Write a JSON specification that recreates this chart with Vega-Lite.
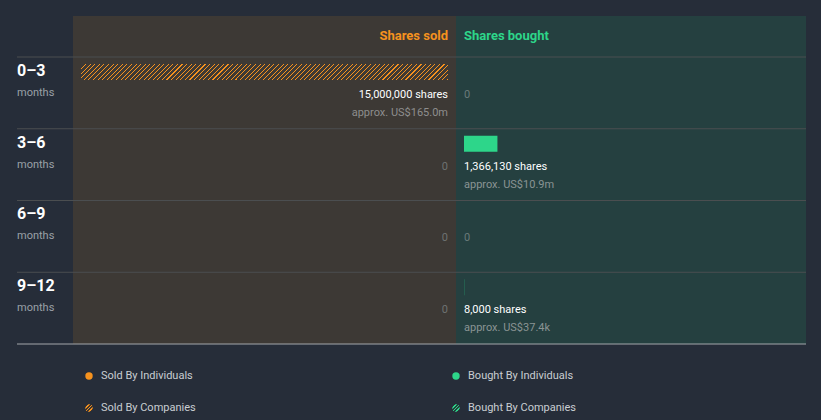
{
  "$schema": "https://vega.github.io/schema/vega-lite/v6.json",
  "background": "#262d39",
  "padding": {"left": 16, "top": 16, "right": 16, "bottom": 5},
  "bounds": "flush",
  "columns": 3,
  "spacing": 0,
  "config": {"view": {"stroke": null}, "font": "Roboto", "text": {"font": "Roboto"}},
  "datasets": {
    "rows": [
      {"period": "0–3", "side": "sold", "by": "Companies", "shares": 15000000, "label": "15,000,000 shares", "approx": "approx. US$165.0m"},
      {"period": "3–6", "side": "sold", "by": "None", "shares": 0, "label": "0", "approx": ""},
      {"period": "6–9", "side": "sold", "by": "None", "shares": 0, "label": "0", "approx": ""},
      {"period": "9–12", "side": "sold", "by": "None", "shares": 0, "label": "0", "approx": ""},
      {"period": "0–3", "side": "bought", "by": "None", "shares": 0, "label": "0", "approx": ""},
      {"period": "3–6", "side": "bought", "by": "Individuals", "shares": 1366130, "label": "1,366,130 shares", "approx": "approx. US$10.9m"},
      {"period": "6–9", "side": "bought", "by": "None", "shares": 0, "label": "0", "approx": ""},
      {"period": "9–12", "side": "bought", "by": "Individuals", "shares": 8000, "label": "8,000 shares", "approx": "approx. US$37.4k"}
    ],
    "periods": [
      {"period": "0–3", "unit": "months"},
      {"period": "3–6", "unit": "months"},
      {"period": "6–9", "unit": "months"},
      {"period": "9–12", "unit": "months"}
    ],
    "headers": [
      {"side": "sold", "title": "Shares sold"},
      {"side": "bought", "title": "Shares bought"}
    ],
    "legend": [
      {"side": "Sold", "by": "Individuals", "label": "Sold By Individuals"},
      {"side": "Bought", "by": "Individuals", "label": "Bought By Individuals"},
      {"side": "Sold", "by": "Companies", "label": "Sold By Companies"},
      {"side": "Bought", "by": "Companies", "label": "Bought By Companies"}
    ]
  },
  "concat": [
    {
      "width": 56, "height": 41,
      "data": {"values": [{}]},
      "mark": {"type": "text"},
      "encoding": {"text": {"value": ""}}
    },
    {
      "width": 383, "height": 41,
      "view": {"fill": "#3d3935", "stroke": null},
      "data": {"name": "headers"},
      "transform": [{"filter": "datum.side === 'sold'"}],
      "mark": {"type": "text", "align": "right", "baseline": "middle", "dy": -1, "fontSize": 13, "fontWeight": "bold", "color": "#f6921e"},
      "encoding": {
        "x": {"datum": 0, "type": "quantitative", "scale": {"domain": [-326975, 15326975], "reverse": true, "nice": false, "zero": false}, "axis": null},
        "text": {"field": "title"}
      }
    },
    {
      "width": 350, "height": 41,
      "view": {"fill": "#254040", "stroke": null},
      "data": {"name": "headers"},
      "transform": [{"filter": "datum.side === 'bought'"}],
      "mark": {"type": "text", "align": "left", "baseline": "middle", "dy": -1, "fontSize": 13, "fontWeight": "bold", "color": "#2dd68a"},
      "encoding": {
        "x": {"datum": 0, "type": "quantitative", "scale": {"domain": [-326975, 13978202], "nice": false, "zero": false}, "axis": null},
        "text": {"field": "title"}
      }
    },
    {
      "width": 56, "height": 287,
      "data": {"name": "periods"},
      "layer": [
        {
          "mark": {"type": "rule", "color": "#4b4e50", "strokeWidth": 1},
          "encoding": {"y": {"field": "period", "type": "nominal", "bandPosition": 0, "sort": null, "scale": {"domain": ["0–3", "3–6", "6–9", "9–12"], "paddingInner": 0, "paddingOuter": 0}, "axis": null}}
        },
        {
          "transform": [{"filter": "datum.period === '9–12'"}],
          "mark": {"type": "rule", "color": "#a3a7ab", "strokeWidth": 1},
          "encoding": {"y": {"field": "period", "type": "nominal", "bandPosition": 1, "sort": null, "scale": {"domain": ["0–3", "3–6", "6–9", "9–12"], "paddingInner": 0, "paddingOuter": 0}, "axis": null}}
        },
        {
          "mark": {"type": "text", "align": "left", "baseline": "middle", "dy": -22, "fontSize": 16, "fontWeight": "bold", "color": "#ffffff"},
          "encoding": {
            "x": {"datum": 0, "type": "quantitative", "scale": {"domain": [0, 1], "nice": false, "zero": false}, "axis": null},
            "y": {"field": "period", "type": "nominal", "sort": null, "scale": {"domain": ["0–3", "3–6", "6–9", "9–12"], "paddingInner": 0, "paddingOuter": 0}, "axis": null},
            "text": {"field": "period"}
          }
        },
        {
          "mark": {"type": "text", "align": "left", "baseline": "middle", "dy": 0, "fontSize": 11, "color": "#9aa0a7"},
          "encoding": {
            "x": {"datum": 0, "type": "quantitative", "scale": {"domain": [0, 1], "nice": false, "zero": false}, "axis": null},
            "y": {"field": "period", "type": "nominal", "sort": null, "scale": {"domain": ["0–3", "3–6", "6–9", "9–12"], "paddingInner": 0, "paddingOuter": 0}, "axis": null},
            "text": {"field": "unit"}
          }
        }
      ]
    },
    {
      "width": 383, "height": 287,
      "view": {"fill": "#3d3935", "stroke": null},
      "data": {"name": "rows"},
      "transform": [{"filter": "datum.side === 'sold'"}],
      "layer": [
        {
          "mark": {"type": "rule", "color": "#4b4e50", "strokeWidth": 1},
          "encoding": {"y": {"field": "period", "type": "nominal", "bandPosition": 0, "sort": null, "scale": {"domain": ["0–3", "3–6", "6–9", "9–12"], "paddingInner": 0, "paddingOuter": 0}, "axis": null}}
        },
        {
          "transform": [{"filter": "datum.period === '9–12'"}],
          "mark": {"type": "rule", "color": "#a3a7ab", "strokeWidth": 1},
          "encoding": {"y": {"field": "period", "type": "nominal", "bandPosition": 1, "sort": null, "scale": {"domain": ["0–3", "3–6", "6–9", "9–12"], "paddingInner": 0, "paddingOuter": 0}, "axis": null}}
        },
        {
          "transform": [{"filter": "datum.by === 'Companies'"}],
          "mark": {
            "type": "bar", "height": 16, "yOffset": -21,
            "fill": {"gradient": "linear", "x1": 0, "y1": 0, "x2": 1.0416, "y2": 0.0454, "stops": [
              {"offset":0,"color":"#f6921e"},{"offset":0.0028,"color":"#f6921e"},{"offset":0.0028,"color":"#3d3935"},{"offset":0.012,"color":"#3d3935"},
              {"offset":0.012,"color":"#f6921e"},{"offset":0.0148,"color":"#f6921e"},{"offset":0.0148,"color":"#3d3935"},{"offset":0.024,"color":"#3d3935"},
              {"offset":0.024,"color":"#f6921e"},{"offset":0.0268,"color":"#f6921e"},{"offset":0.0268,"color":"#3d3935"},{"offset":0.036,"color":"#3d3935"},
              {"offset":0.036,"color":"#f6921e"},{"offset":0.0388,"color":"#f6921e"},{"offset":0.0388,"color":"#3d3935"},{"offset":0.048,"color":"#3d3935"},
              {"offset":0.048,"color":"#f6921e"},{"offset":0.0508,"color":"#f6921e"},{"offset":0.0508,"color":"#3d3935"},{"offset":0.060,"color":"#3d3935"},
              {"offset":0.060,"color":"#f6921e"},{"offset":0.0628,"color":"#f6921e"},{"offset":0.0628,"color":"#3d3935"},{"offset":0.072,"color":"#3d3935"},
              {"offset":0.072,"color":"#f6921e"},{"offset":0.0748,"color":"#f6921e"},{"offset":0.0748,"color":"#3d3935"},{"offset":0.084,"color":"#3d3935"},
              {"offset":0.084,"color":"#f6921e"},{"offset":0.0868,"color":"#f6921e"},{"offset":0.0868,"color":"#3d3935"},{"offset":0.096,"color":"#3d3935"},
              {"offset":0.096,"color":"#f6921e"},{"offset":0.0988,"color":"#f6921e"},{"offset":0.0988,"color":"#3d3935"},{"offset":0.108,"color":"#3d3935"},
              {"offset":0.108,"color":"#f6921e"},{"offset":0.1108,"color":"#f6921e"},{"offset":0.1108,"color":"#3d3935"},{"offset":0.120,"color":"#3d3935"},
              {"offset":0.120,"color":"#f6921e"},{"offset":0.1228,"color":"#f6921e"},{"offset":0.1228,"color":"#3d3935"},{"offset":0.132,"color":"#3d3935"},
              {"offset":0.132,"color":"#f6921e"},{"offset":0.1348,"color":"#f6921e"},{"offset":0.1348,"color":"#3d3935"},{"offset":0.144,"color":"#3d3935"},
              {"offset":0.144,"color":"#f6921e"},{"offset":0.1468,"color":"#f6921e"},{"offset":0.1468,"color":"#3d3935"},{"offset":0.156,"color":"#3d3935"},
              {"offset":0.156,"color":"#f6921e"},{"offset":0.1588,"color":"#f6921e"},{"offset":0.1588,"color":"#3d3935"},{"offset":0.168,"color":"#3d3935"},
              {"offset":0.168,"color":"#f6921e"},{"offset":0.1708,"color":"#f6921e"},{"offset":0.1708,"color":"#3d3935"},{"offset":0.180,"color":"#3d3935"},
              {"offset":0.180,"color":"#f6921e"},{"offset":0.1828,"color":"#f6921e"},{"offset":0.1828,"color":"#3d3935"},{"offset":0.192,"color":"#3d3935"},
              {"offset":0.192,"color":"#f6921e"},{"offset":0.1948,"color":"#f6921e"},{"offset":0.1948,"color":"#3d3935"},{"offset":0.204,"color":"#3d3935"},
              {"offset":0.204,"color":"#f6921e"},{"offset":0.2068,"color":"#f6921e"},{"offset":0.2068,"color":"#3d3935"},{"offset":0.216,"color":"#3d3935"},
              {"offset":0.216,"color":"#f6921e"},{"offset":0.2188,"color":"#f6921e"},{"offset":0.2188,"color":"#3d3935"},{"offset":0.228,"color":"#3d3935"},
              {"offset":0.228,"color":"#f6921e"},{"offset":0.2308,"color":"#f6921e"},{"offset":0.2308,"color":"#3d3935"},{"offset":0.240,"color":"#3d3935"},
              {"offset":0.240,"color":"#f6921e"},{"offset":0.2428,"color":"#f6921e"},{"offset":0.2428,"color":"#3d3935"},{"offset":0.252,"color":"#3d3935"},
              {"offset":0.252,"color":"#f6921e"},{"offset":0.2548,"color":"#f6921e"},{"offset":0.2548,"color":"#3d3935"},{"offset":0.264,"color":"#3d3935"},
              {"offset":0.264,"color":"#f6921e"},{"offset":0.2668,"color":"#f6921e"},{"offset":0.2668,"color":"#3d3935"},{"offset":0.276,"color":"#3d3935"},
              {"offset":0.276,"color":"#f6921e"},{"offset":0.2788,"color":"#f6921e"},{"offset":0.2788,"color":"#3d3935"},{"offset":0.288,"color":"#3d3935"},
              {"offset":0.288,"color":"#f6921e"},{"offset":0.2908,"color":"#f6921e"},{"offset":0.2908,"color":"#3d3935"},{"offset":0.300,"color":"#3d3935"},
              {"offset":0.300,"color":"#f6921e"},{"offset":0.3028,"color":"#f6921e"},{"offset":0.3028,"color":"#3d3935"},{"offset":0.312,"color":"#3d3935"},
              {"offset":0.312,"color":"#f6921e"},{"offset":0.3148,"color":"#f6921e"},{"offset":0.3148,"color":"#3d3935"},{"offset":0.324,"color":"#3d3935"},
              {"offset":0.324,"color":"#f6921e"},{"offset":0.3268,"color":"#f6921e"},{"offset":0.3268,"color":"#3d3935"},{"offset":0.336,"color":"#3d3935"},
              {"offset":0.336,"color":"#f6921e"},{"offset":0.3388,"color":"#f6921e"},{"offset":0.3388,"color":"#3d3935"},{"offset":0.348,"color":"#3d3935"},
              {"offset":0.348,"color":"#f6921e"},{"offset":0.3508,"color":"#f6921e"},{"offset":0.3508,"color":"#3d3935"},{"offset":0.360,"color":"#3d3935"},
              {"offset":0.360,"color":"#f6921e"},{"offset":0.3628,"color":"#f6921e"},{"offset":0.3628,"color":"#3d3935"},{"offset":0.372,"color":"#3d3935"},
              {"offset":0.372,"color":"#f6921e"},{"offset":0.3748,"color":"#f6921e"},{"offset":0.3748,"color":"#3d3935"},{"offset":0.384,"color":"#3d3935"},
              {"offset":0.384,"color":"#f6921e"},{"offset":0.3868,"color":"#f6921e"},{"offset":0.3868,"color":"#3d3935"},{"offset":0.396,"color":"#3d3935"},
              {"offset":0.396,"color":"#f6921e"},{"offset":0.3988,"color":"#f6921e"},{"offset":0.3988,"color":"#3d3935"},{"offset":0.408,"color":"#3d3935"},
              {"offset":0.408,"color":"#f6921e"},{"offset":0.4108,"color":"#f6921e"},{"offset":0.4108,"color":"#3d3935"},{"offset":0.420,"color":"#3d3935"},
              {"offset":0.420,"color":"#f6921e"},{"offset":0.4228,"color":"#f6921e"},{"offset":0.4228,"color":"#3d3935"},{"offset":0.432,"color":"#3d3935"},
              {"offset":0.432,"color":"#f6921e"},{"offset":0.4348,"color":"#f6921e"},{"offset":0.4348,"color":"#3d3935"},{"offset":0.444,"color":"#3d3935"},
              {"offset":0.444,"color":"#f6921e"},{"offset":0.4468,"color":"#f6921e"},{"offset":0.4468,"color":"#3d3935"},{"offset":0.456,"color":"#3d3935"},
              {"offset":0.456,"color":"#f6921e"},{"offset":0.4588,"color":"#f6921e"},{"offset":0.4588,"color":"#3d3935"},{"offset":0.468,"color":"#3d3935"},
              {"offset":0.468,"color":"#f6921e"},{"offset":0.4708,"color":"#f6921e"},{"offset":0.4708,"color":"#3d3935"},{"offset":0.480,"color":"#3d3935"},
              {"offset":0.480,"color":"#f6921e"},{"offset":0.4828,"color":"#f6921e"},{"offset":0.4828,"color":"#3d3935"},{"offset":0.492,"color":"#3d3935"},
              {"offset":0.492,"color":"#f6921e"},{"offset":0.4948,"color":"#f6921e"},{"offset":0.4948,"color":"#3d3935"},{"offset":0.504,"color":"#3d3935"},
              {"offset":0.504,"color":"#f6921e"},{"offset":0.5068,"color":"#f6921e"},{"offset":0.5068,"color":"#3d3935"},{"offset":0.516,"color":"#3d3935"},
              {"offset":0.516,"color":"#f6921e"},{"offset":0.5188,"color":"#f6921e"},{"offset":0.5188,"color":"#3d3935"},{"offset":0.528,"color":"#3d3935"},
              {"offset":0.528,"color":"#f6921e"},{"offset":0.5308,"color":"#f6921e"},{"offset":0.5308,"color":"#3d3935"},{"offset":0.540,"color":"#3d3935"},
              {"offset":0.540,"color":"#f6921e"},{"offset":0.5428,"color":"#f6921e"},{"offset":0.5428,"color":"#3d3935"},{"offset":0.552,"color":"#3d3935"},
              {"offset":0.552,"color":"#f6921e"},{"offset":0.5548,"color":"#f6921e"},{"offset":0.5548,"color":"#3d3935"},{"offset":0.564,"color":"#3d3935"},
              {"offset":0.564,"color":"#f6921e"},{"offset":0.5668,"color":"#f6921e"},{"offset":0.5668,"color":"#3d3935"},{"offset":0.576,"color":"#3d3935"},
              {"offset":0.576,"color":"#f6921e"},{"offset":0.5788,"color":"#f6921e"},{"offset":0.5788,"color":"#3d3935"},{"offset":0.588,"color":"#3d3935"},
              {"offset":0.588,"color":"#f6921e"},{"offset":0.5908,"color":"#f6921e"},{"offset":0.5908,"color":"#3d3935"},{"offset":0.600,"color":"#3d3935"},
              {"offset":0.600,"color":"#f6921e"},{"offset":0.6028,"color":"#f6921e"},{"offset":0.6028,"color":"#3d3935"},{"offset":0.612,"color":"#3d3935"},
              {"offset":0.612,"color":"#f6921e"},{"offset":0.6148,"color":"#f6921e"},{"offset":0.6148,"color":"#3d3935"},{"offset":0.624,"color":"#3d3935"},
              {"offset":0.624,"color":"#f6921e"},{"offset":0.6268,"color":"#f6921e"},{"offset":0.6268,"color":"#3d3935"},{"offset":0.636,"color":"#3d3935"},
              {"offset":0.636,"color":"#f6921e"},{"offset":0.6388,"color":"#f6921e"},{"offset":0.6388,"color":"#3d3935"},{"offset":0.648,"color":"#3d3935"},
              {"offset":0.648,"color":"#f6921e"},{"offset":0.6508,"color":"#f6921e"},{"offset":0.6508,"color":"#3d3935"},{"offset":0.660,"color":"#3d3935"},
              {"offset":0.660,"color":"#f6921e"},{"offset":0.6628,"color":"#f6921e"},{"offset":0.6628,"color":"#3d3935"},{"offset":0.672,"color":"#3d3935"},
              {"offset":0.672,"color":"#f6921e"},{"offset":0.6748,"color":"#f6921e"},{"offset":0.6748,"color":"#3d3935"},{"offset":0.684,"color":"#3d3935"},
              {"offset":0.684,"color":"#f6921e"},{"offset":0.6868,"color":"#f6921e"},{"offset":0.6868,"color":"#3d3935"},{"offset":0.696,"color":"#3d3935"},
              {"offset":0.696,"color":"#f6921e"},{"offset":0.6988,"color":"#f6921e"},{"offset":0.6988,"color":"#3d3935"},{"offset":0.708,"color":"#3d3935"},
              {"offset":0.708,"color":"#f6921e"},{"offset":0.7108,"color":"#f6921e"},{"offset":0.7108,"color":"#3d3935"},{"offset":0.720,"color":"#3d3935"},
              {"offset":0.720,"color":"#f6921e"},{"offset":0.7228,"color":"#f6921e"},{"offset":0.7228,"color":"#3d3935"},{"offset":0.732,"color":"#3d3935"},
              {"offset":0.732,"color":"#f6921e"},{"offset":0.7348,"color":"#f6921e"},{"offset":0.7348,"color":"#3d3935"},{"offset":0.744,"color":"#3d3935"},
              {"offset":0.744,"color":"#f6921e"},{"offset":0.7468,"color":"#f6921e"},{"offset":0.7468,"color":"#3d3935"},{"offset":0.756,"color":"#3d3935"},
              {"offset":0.756,"color":"#f6921e"},{"offset":0.7588,"color":"#f6921e"},{"offset":0.7588,"color":"#3d3935"},{"offset":0.768,"color":"#3d3935"},
              {"offset":0.768,"color":"#f6921e"},{"offset":0.7708,"color":"#f6921e"},{"offset":0.7708,"color":"#3d3935"},{"offset":0.780,"color":"#3d3935"},
              {"offset":0.780,"color":"#f6921e"},{"offset":0.7828,"color":"#f6921e"},{"offset":0.7828,"color":"#3d3935"},{"offset":0.792,"color":"#3d3935"},
              {"offset":0.792,"color":"#f6921e"},{"offset":0.7948,"color":"#f6921e"},{"offset":0.7948,"color":"#3d3935"},{"offset":0.804,"color":"#3d3935"},
              {"offset":0.804,"color":"#f6921e"},{"offset":0.8068,"color":"#f6921e"},{"offset":0.8068,"color":"#3d3935"},{"offset":0.816,"color":"#3d3935"},
              {"offset":0.816,"color":"#f6921e"},{"offset":0.8188,"color":"#f6921e"},{"offset":0.8188,"color":"#3d3935"},{"offset":0.828,"color":"#3d3935"},
              {"offset":0.828,"color":"#f6921e"},{"offset":0.8308,"color":"#f6921e"},{"offset":0.8308,"color":"#3d3935"},{"offset":0.840,"color":"#3d3935"},
              {"offset":0.840,"color":"#f6921e"},{"offset":0.8428,"color":"#f6921e"},{"offset":0.8428,"color":"#3d3935"},{"offset":0.852,"color":"#3d3935"},
              {"offset":0.852,"color":"#f6921e"},{"offset":0.8548,"color":"#f6921e"},{"offset":0.8548,"color":"#3d3935"},{"offset":0.864,"color":"#3d3935"},
              {"offset":0.864,"color":"#f6921e"},{"offset":0.8668,"color":"#f6921e"},{"offset":0.8668,"color":"#3d3935"},{"offset":0.876,"color":"#3d3935"},
              {"offset":0.876,"color":"#f6921e"},{"offset":0.8788,"color":"#f6921e"},{"offset":0.8788,"color":"#3d3935"},{"offset":0.888,"color":"#3d3935"},
              {"offset":0.888,"color":"#f6921e"},{"offset":0.8908,"color":"#f6921e"},{"offset":0.8908,"color":"#3d3935"},{"offset":0.900,"color":"#3d3935"},
              {"offset":0.900,"color":"#f6921e"},{"offset":0.9028,"color":"#f6921e"},{"offset":0.9028,"color":"#3d3935"},{"offset":0.912,"color":"#3d3935"},
              {"offset":0.912,"color":"#f6921e"},{"offset":0.9148,"color":"#f6921e"},{"offset":0.9148,"color":"#3d3935"},{"offset":0.924,"color":"#3d3935"},
              {"offset":0.924,"color":"#f6921e"},{"offset":0.9268,"color":"#f6921e"},{"offset":0.9268,"color":"#3d3935"},{"offset":0.936,"color":"#3d3935"},
              {"offset":0.936,"color":"#f6921e"},{"offset":0.9388,"color":"#f6921e"},{"offset":0.9388,"color":"#3d3935"},{"offset":0.948,"color":"#3d3935"},
              {"offset":0.948,"color":"#f6921e"},{"offset":0.9508,"color":"#f6921e"},{"offset":0.9508,"color":"#3d3935"},{"offset":0.960,"color":"#3d3935"},
              {"offset":0.960,"color":"#f6921e"},{"offset":0.9628,"color":"#f6921e"},{"offset":0.9628,"color":"#3d3935"},{"offset":0.972,"color":"#3d3935"},
              {"offset":0.972,"color":"#f6921e"},{"offset":0.9748,"color":"#f6921e"},{"offset":0.9748,"color":"#3d3935"},{"offset":0.984,"color":"#3d3935"},
              {"offset":0.984,"color":"#f6921e"},{"offset":0.9868,"color":"#f6921e"},{"offset":0.9868,"color":"#3d3935"},{"offset":0.996,"color":"#3d3935"},
              {"offset":0.996,"color":"#f6921e"},{"offset":0.9988,"color":"#f6921e"},{"offset":0.9988,"color":"#3d3935"},{"offset":1,"color":"#3d3935"}
            ]}
          },
          "encoding": {
            "x": {"field": "shares", "type": "quantitative", "scale": {"domain": [-326975, 15326975], "reverse": true, "nice": false, "zero": false}, "axis": null},
            "y": {"field": "period", "type": "nominal", "sort": null, "scale": {"domain": ["0–3", "3–6", "6–9", "9–12"], "paddingInner": 0, "paddingOuter": 0}, "axis": null}
          }
        },
        {
          "mark": {"type": "text", "align": "right", "baseline": "middle", "dy": 2, "fontSize": 11},
          "encoding": {
            "x": {"datum": 0, "type": "quantitative", "scale": {"domain": [-326975, 15326975], "reverse": true, "nice": false, "zero": false}, "axis": null},
            "y": {"field": "period", "type": "nominal", "sort": null, "scale": {"domain": ["0–3", "3–6", "6–9", "9–12"], "paddingInner": 0, "paddingOuter": 0}, "axis": null},
            "text": {"field": "label"},
            "color": {"condition": {"test": "datum.shares > 0", "value": "#ffffff"}, "value": "#6e7272"}
          }
        },
        {
          "transform": [{"filter": "datum.shares > 0"}],
          "mark": {"type": "text", "align": "right", "baseline": "middle", "dy": 20, "fontSize": 11, "color": "#8e8e8e"},
          "encoding": {
            "x": {"datum": 0, "type": "quantitative", "scale": {"domain": [-326975, 15326975], "reverse": true, "nice": false, "zero": false}, "axis": null},
            "y": {"field": "period", "type": "nominal", "sort": null, "scale": {"domain": ["0–3", "3–6", "6–9", "9–12"], "paddingInner": 0, "paddingOuter": 0}, "axis": null},
            "text": {"field": "approx"}
          }
        }
      ]
    },
    {
      "width": 350, "height": 287,
      "view": {"fill": "#254040", "stroke": null},
      "data": {"name": "rows"},
      "transform": [{"filter": "datum.side === 'bought'"}],
      "layer": [
        {
          "mark": {"type": "rule", "color": "#4b4e50", "strokeWidth": 1},
          "encoding": {"y": {"field": "period", "type": "nominal", "bandPosition": 0, "sort": null, "scale": {"domain": ["0–3", "3–6", "6–9", "9–12"], "paddingInner": 0, "paddingOuter": 0}, "axis": null}}
        },
        {
          "transform": [{"filter": "datum.period === '9–12'"}],
          "mark": {"type": "rule", "color": "#a3a7ab", "strokeWidth": 1},
          "encoding": {"y": {"field": "period", "type": "nominal", "bandPosition": 1, "sort": null, "scale": {"domain": ["0–3", "3–6", "6–9", "9–12"], "paddingInner": 0, "paddingOuter": 0}, "axis": null}}
        },
        {
          "transform": [{"filter": "datum.by === 'Individuals'"}],
          "mark": {"type": "bar", "height": 16, "yOffset": -21, "color": "#2dd68a"},
          "encoding": {
            "x": {"field": "shares", "type": "quantitative", "scale": {"domain": [-326975, 13978202], "nice": false, "zero": false}, "axis": null},
            "y": {"field": "period", "type": "nominal", "sort": null, "scale": {"domain": ["0–3", "3–6", "6–9", "9–12"], "paddingInner": 0, "paddingOuter": 0}, "axis": null}
          }
        },
        {
          "mark": {"type": "text", "align": "left", "baseline": "middle", "dy": 2, "fontSize": 11},
          "encoding": {
            "x": {"datum": 0, "type": "quantitative", "scale": {"domain": [-326975, 13978202], "nice": false, "zero": false}, "axis": null},
            "y": {"field": "period", "type": "nominal", "sort": null, "scale": {"domain": ["0–3", "3–6", "6–9", "9–12"], "paddingInner": 0, "paddingOuter": 0}, "axis": null},
            "text": {"field": "label"},
            "color": {"condition": {"test": "datum.shares > 0", "value": "#ffffff"}, "value": "#6a7a7a"}
          }
        },
        {
          "transform": [{"filter": "datum.shares > 0"}],
          "mark": {"type": "text", "align": "left", "baseline": "middle", "dy": 20, "fontSize": 11, "color": "#8a9494"},
          "encoding": {
            "x": {"datum": 0, "type": "quantitative", "scale": {"domain": [-326975, 13978202], "nice": false, "zero": false}, "axis": null},
            "y": {"field": "period", "type": "nominal", "sort": null, "scale": {"domain": ["0–3", "3–6", "6–9", "9–12"], "paddingInner": 0, "paddingOuter": 0}, "axis": null},
            "text": {"field": "approx"}
          }
        }
      ]
    },
    {
      "width": 56, "height": 71,
      "data": {"values": [{}]},
      "mark": {"type": "text"},
      "encoding": {"text": {"value": ""}}
    },
    {
      "width": 383, "height": 71,
      "data": {"name": "legend"},
      "transform": [{"filter": "datum.side === 'Sold'"}],
      "layer": [
        {
          "transform": [{"filter": "datum.by === 'Individuals'"}],
          "mark": {"type": "point", "shape": "circle", "filled": true, "size": 55, "opacity": 1, "yOffset": 1, "color": "#f6921e"},
          "encoding": {
            "x": {"field": "side", "type": "nominal", "bandPosition": 0, "scale": {"type": "band", "domain": ["Sold"], "paddingInner": 0, "paddingOuter": 0.0456}, "axis": null},
            "y": {"field": "by", "type": "nominal", "sort": null, "scale": {"type": "band", "domain": ["Individuals", "Companies"], "paddingInner": 0.5, "paddingOuter": 0.359, "align": 1}, "axis": null}
          }
        },
        {
          "transform": [{"filter": "datum.by === 'Companies'"}],
          "mark": {"type": "point", "shape": "circle", "filled": true, "size": 55, "opacity": 1, "yOffset": 1, "strokeWidth": 0,
            "fill": {"gradient": "linear", "x1": 0, "y1": 0, "x2": 1, "y2": 1, "stops": [
              {"offset":0,"color":"#3d3530"},{"offset":0.22,"color":"#3d3530"},{"offset":0.22,"color":"#f6921e"},{"offset":0.32,"color":"#f6921e"},{"offset":0.32,"color":"#3d3530"},{"offset":0.45,"color":"#3d3530"},{"offset":0.45,"color":"#f6921e"},{"offset":0.55,"color":"#f6921e"},{"offset":0.55,"color":"#3d3530"},{"offset":0.68,"color":"#3d3530"},{"offset":0.68,"color":"#f6921e"},{"offset":0.78,"color":"#f6921e"},{"offset":0.78,"color":"#3d3530"},{"offset":1,"color":"#3d3530"}
            ]}},
          "encoding": {
            "x": {"field": "side", "type": "nominal", "bandPosition": 0, "scale": {"type": "band", "domain": ["Sold"], "paddingInner": 0, "paddingOuter": 0.0456}, "axis": null},
            "y": {"field": "by", "type": "nominal", "sort": null, "scale": {"type": "band", "domain": ["Individuals", "Companies"], "paddingInner": 0.5, "paddingOuter": 0.359, "align": 1}, "axis": null}
          }
        },
        {
          "mark": {"type": "text", "align": "left", "baseline": "middle", "dx": 12, "dy": 1, "fontSize": 11, "color": "#c9cdd2"},
          "encoding": {
            "x": {"field": "side", "type": "nominal", "bandPosition": 0, "scale": {"type": "band", "domain": ["Sold"], "paddingInner": 0, "paddingOuter": 0.0456}, "axis": null},
            "y": {"field": "by", "type": "nominal", "sort": null, "scale": {"type": "band", "domain": ["Individuals", "Companies"], "paddingInner": 0.5, "paddingOuter": 0.359, "align": 1}, "axis": null},
            "text": {"field": "label"}
          }
        }
      ]
    },
    {
      "width": 350, "height": 71,
      "data": {"name": "legend"},
      "transform": [{"filter": "datum.side === 'Bought'"}],
      "layer": [
        {
          "transform": [{"filter": "datum.by === 'Individuals'"}],
          "mark": {"type": "point", "shape": "circle", "filled": true, "size": 55, "opacity": 1, "yOffset": 1, "color": "#2dd68a"},
          "encoding": {
            "x": {"field": "side", "type": "nominal", "bandPosition": 0, "scale": {"type": "band", "domain": ["Bought"], "paddingInner": 0, "paddingOuter": 0}, "axis": null},
            "y": {"field": "by", "type": "nominal", "sort": null, "scale": {"type": "band", "domain": ["Individuals", "Companies"], "paddingInner": 0.5, "paddingOuter": 0.359, "align": 1}, "axis": null}
          }
        },
        {
          "transform": [{"filter": "datum.by === 'Companies'"}],
          "mark": {"type": "point", "shape": "circle", "filled": true, "size": 55, "opacity": 1, "yOffset": 1, "strokeWidth": 0,
            "fill": {"gradient": "linear", "x1": 0, "y1": 0, "x2": 1, "y2": 1, "stops": [
              {"offset":0,"color":"#24403c"},{"offset":0.22,"color":"#24403c"},{"offset":0.22,"color":"#2dd68a"},{"offset":0.32,"color":"#2dd68a"},{"offset":0.32,"color":"#24403c"},{"offset":0.45,"color":"#24403c"},{"offset":0.45,"color":"#2dd68a"},{"offset":0.55,"color":"#2dd68a"},{"offset":0.55,"color":"#24403c"},{"offset":0.68,"color":"#24403c"},{"offset":0.68,"color":"#2dd68a"},{"offset":0.78,"color":"#2dd68a"},{"offset":0.78,"color":"#24403c"},{"offset":1,"color":"#24403c"}
            ]}},
          "encoding": {
            "x": {"field": "side", "type": "nominal", "bandPosition": 0, "scale": {"type": "band", "domain": ["Bought"], "paddingInner": 0, "paddingOuter": 0}, "axis": null},
            "y": {"field": "by", "type": "nominal", "sort": null, "scale": {"type": "band", "domain": ["Individuals", "Companies"], "paddingInner": 0.5, "paddingOuter": 0.359, "align": 1}, "axis": null}
          }
        },
        {
          "mark": {"type": "text", "align": "left", "baseline": "middle", "dx": 12, "dy": 1, "fontSize": 11, "color": "#c9cdd2"},
          "encoding": {
            "x": {"field": "side", "type": "nominal", "bandPosition": 0, "scale": {"type": "band", "domain": ["Bought"], "paddingInner": 0, "paddingOuter": 0}, "axis": null},
            "y": {"field": "by", "type": "nominal", "sort": null, "scale": {"type": "band", "domain": ["Individuals", "Companies"], "paddingInner": 0.5, "paddingOuter": 0.359, "align": 1}, "axis": null},
            "text": {"field": "label"}
          }
        }
      ]
    }
  ]
}
